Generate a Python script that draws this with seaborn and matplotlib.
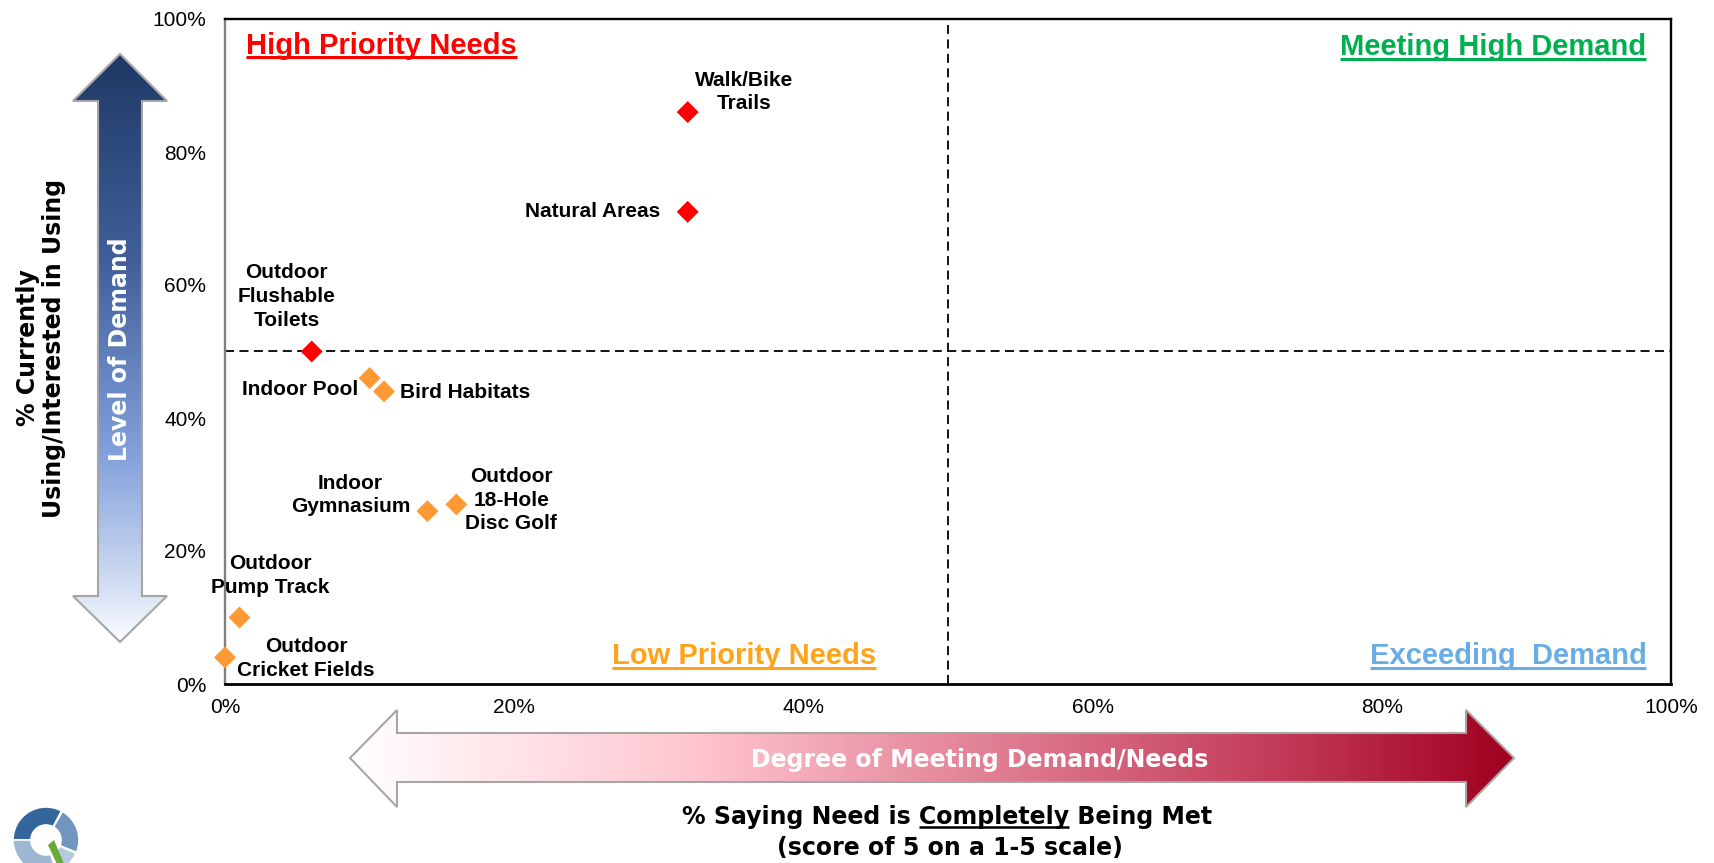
import numpy as np
import pandas as pd
import matplotlib
matplotlib.use("Agg")
import matplotlib.pyplot as plt
import seaborn as sns
from matplotlib.patches import Polygon, Wedge
from matplotlib.colors import LinearSegmentedColormap
from matplotlib.ticker import FuncFormatter

W, H = 1715, 863

facilities = ["Walk/Bike\nTrails", "Natural Areas", "Outdoor\nFlushable\nToilets",
              "Indoor Pool", "Bird Habitats", "Indoor\nGymnasium",
              "Outdoor\n18-Hole\nDisc Golf", "Outdoor\nPump Track",
              "Outdoor\nCricket Fields"]
pct_met = [32, 32, 6, 10, 11, 14, 16, 1, 0]
pct_using = [86, 71, 50, 46, 44, 26, 27, 10, 4]
ticks = [0, 20, 40, 60, 80, 100]

# where each label sits relative to its marker (pixels, y up) and alignment
label_pos = [(56, 20, "center"), (-27, 0, "right"), (-25, 55, "center"),
             (-11, -11, "right"), (16, -1, "left"), (-77, 16, "center"),
             (55, 4, "center"), (31, 42, "center"), (81, -1, "center")]

df = pd.DataFrame({"facility": facilities, "met": pct_met, "using": pct_using})
df["group"] = np.where(df["using"] >= 50, "high", "low")

sns.set_style("white")
plt.rcParams["font.family"] = ["Liberation Sans", "DejaVu Sans"]
plt.rcParams.update({"text.color": "black", "axes.labelcolor": "black",
                     "xtick.color": "black", "ytick.color": "black"})
TAHOMA = ["DejaVu Sans"]

fig = plt.figure(figsize=(W / 100, H / 100), dpi=100)
fig.patch.set_facecolor("white")

# full-figure overlay in pixel coords (y down) for arrows, labels and logo
bg = fig.add_axes([0, 0, 1, 1])
bg.set_xlim(0, W)
bg.set_ylim(H, 0)
bg.axis("off")

ax = fig.add_axes([225 / W, 1 - 684 / H, (1671 - 225) / W, (684 - 19) / H])
ax.set_facecolor("none")

sns.scatterplot(data=df, x="met", y="using", hue="group",
                palette={"high": "#ff0000", "low": "#ff9933"},
                marker="D", s=125, linewidth=0, legend=False,
                clip_on=False, zorder=4, ax=ax)

for (name, x, y), (dx, dy, ha) in zip(zip(facilities, pct_met, pct_using), label_pos):
    ax.annotate(name, (x, y), xytext=(dx, dy), textcoords="offset pixels",
                ha=ha, va="center", multialignment="center",
                fontsize=15, fontweight="bold", linespacing=1.3, zorder=5,
                annotation_clip=False)

ax.axvline(50, color="black", lw=1.3, dashes=(5, 3), zorder=2)
ax.axhline(50, color="black", lw=1.3, dashes=(5, 3), zorder=2)

ax.set_xlim(0, 100)
ax.set_ylim(0, 100)
ax.set_xticks(ticks)
ax.set_yticks(ticks)
pct = FuncFormatter(lambda v, p: f"{v:.0f}%")
ax.xaxis.set_major_formatter(pct)
ax.yaxis.set_major_formatter(pct)
ax.tick_params(axis="x", length=0, labelsize=15, pad=10)
ax.tick_params(axis="y", length=0, labelsize=15, pad=13.5)
ax.set_xlabel("")
ax.set_ylabel("")
for side in ["top", "right", "bottom"]:
    ax.spines[side].set_color("black")
    ax.spines[side].set_linewidth(1.7)
ax.spines["bottom"].set_linewidth(2.0)
ax.spines["left"].set_color("#808080")
ax.spines["left"].set_linewidth(1.7)

renderer = fig.canvas.get_renderer()


def underline(txt, color, lw=2.0, frac=0.08):
    bb = txt.get_window_extent(renderer)
    size_px = txt.get_fontsize() * 100 / 72
    y = H - (bb.y0 + frac * size_px)
    bg.plot([bb.x0, bb.x1], [y, y], color=color, lw=lw,
            solid_capstyle="butt", zorder=6)


quadrants = [
    ("High Priority Needs", 1.45, 96.0, "left", "#ff0000"),
    ("Meeting High Demand", 98.3, 95.8, "right", "#00b050"),
    ("Low Priority Needs", 35.9, 4.2, "center", "#ffa31a"),
    ("Exceeding  Demand", 98.3, 4.2, "right", "#6aade4"),
]
for text, x, y, ha, color in quadrants:
    t = ax.text(x, y, text, ha=ha, va="center", color=color,
                fontsize=21, fontweight="bold", zorder=5)
    underline(t, color, lw=2.2)


def gradient_arrow(pts, colors, vertical):
    poly = Polygon(pts, closed=True, transform=bg.transData, facecolor="none",
                   edgecolor="#a6a6a6", lw=1.5, zorder=3)
    xs, ys = zip(*pts)
    grad = np.linspace(0, 1, 256)
    grad = grad[:, None] if vertical else grad[None, :]
    cmap = LinearSegmentedColormap.from_list("grad", colors)
    im = bg.imshow(grad, cmap=cmap, aspect="auto", origin="upper",
                   extent=(min(xs), max(xs), max(ys), min(ys)), zorder=2)
    im.set_clip_path(poly)
    bg.add_patch(poly)


gradient_arrow([(120, 54), (167, 101), (142, 101), (142, 596), (167, 596),
                (120, 642), (73, 596), (98, 596), (98, 101), (73, 101)],
               [(0, "#1f3864"), (0.35, "#405f9a"), (0.68, "#82a0dc"),
                (0.88, "#c9d6f0"), (1, "#fafcff")], vertical=True)
gradient_arrow([(350, 758), (397, 710), (397, 733), (1466, 733), (1466, 710),
                (1514, 758), (1466, 807), (1466, 782), (397, 782), (397, 807)],
               [(0, "#ffffff"), (0.3, "#ffc4cf"), (0.78, "#c5405d"),
                (1, "#a0001f")], vertical=False)
bg.set_xlim(0, W)
bg.set_ylim(H, 0)

bg.text(120, 349, "Level of Demand", rotation=90, ha="center", va="center",
        color="white", fontsize=17, fontweight="bold", family=TAHOMA, zorder=4)
bg.text(980, 760, "Degree of Meeting Demand/Needs", ha="center", va="center",
        color="white", fontsize=17, fontweight="bold", family=TAHOMA, zorder=4)

bg.text(41, 348, "% Currently\nUsing/Interested in Using", rotation=90,
        ha="center", va="center", multialignment="center", linespacing=1.1,
        fontsize=17, fontweight="bold", family=TAHOMA)

xl_font = dict(fontsize=17, fontweight="bold", family=TAHOMA)
line1 = "% Saying Need is Completely Being Met"
t1 = bg.text(947, 817, line1, ha="center", va="center", **xl_font)
bg.text(950, 848, "(score of 5 on a 1-5 scale)", ha="center", va="center", **xl_font)

# underline the word "Completely"
bb1 = t1.get_window_extent(renderer)
tmp = fig.text(0, 0, "% Saying Need is Completely", **xl_font)
w_pre = tmp.get_window_extent(renderer).width
tmp.set_text("Completely")
w_word = tmp.get_window_extent(renderer).width
tmp.remove()
uy = H - (bb1.y0 + 0.07 * 17 * 100 / 72)
bg.plot([bb1.x0 + w_pre - w_word, bb1.x0 + w_pre], [uy, uy], color="black",
        lw=1.8, solid_capstyle="butt", zorder=6)

# logo ring in the bottom-left corner
ring = [(62, 180, "#34659b"), (-22, 60, "#7096bf"), (-68, -24, "#b5cadc"),
        (180, 288, "#9db7d0")]
for a1, a2, color in ring:
    bg.add_patch(Wedge((46, 840), 33, -a2, -a1, width=18, facecolor=color,
                       edgecolor="white", lw=1.2, zorder=2))
bg.add_patch(Polygon([(48, 845), (54, 840), (65, 866), (58, 866)], closed=True,
                     facecolor="#6aaa3a", edgecolor="none", zorder=3))

fig.savefig("out.png", dpi=100, facecolor="white")
